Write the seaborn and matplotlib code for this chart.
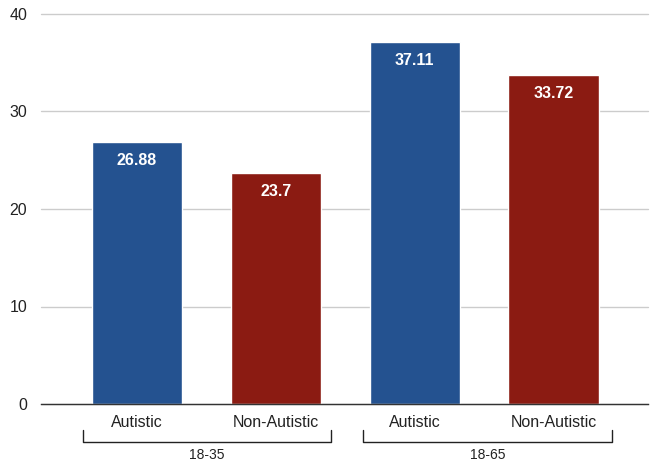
import matplotlib
matplotlib.use("Agg")
import matplotlib.pyplot as plt
import seaborn as sns
import pandas as pd

groups = ["18-35", "18-35", "18-65", "18-65"]
categories = ["Autistic", "Non-Autistic", "Autistic", "Non-Autistic"]
values = [26.88, 23.7, 37.11, 33.72]
value_labels = ["26.88", "23.7", "37.11", "33.72"]
group_names = ["18-35", "18-65"]
yticks = [0, 10, 20, 30, 40]

colors = {"Autistic": "#245290", "Non-Autistic": "#8B1B12"}

df = pd.DataFrame({
    "key": [f"{g}|{c}" for g, c in zip(groups, categories)],
    "cat": categories,
    "val": values,
})

sns.set_theme(style="white")
plt.rcParams['font.family'] = ['Liberation Sans', 'DejaVu Sans']

fig = plt.figure(figsize=(6.51, 4.65), dpi=100)
ax = fig.add_axes([41/651, 1-404/465, 607/651, 390/465])

sns.barplot(data=df, x="key", y="val", hue="cat", palette=colors,
            dodge=False, width=0.65, legend=False, ax=ax, saturation=1)

ax.set_ylim(0, 40)
ax.set_xlim(-0.69, 3.68)
ax.set_yticks(yticks)
ax.set_yticklabels([str(t) for t in yticks], fontsize=11.5, color="#222222")
ax.yaxis.grid(True, color="#cccccc", linewidth=1)
ax.set_axisbelow(True)
for g in ax.get_ygridlines():
    g.set_clip_on(False)
ax.tick_params(axis="y", length=0, pad=10)
ax.tick_params(axis="x", length=0, pad=8)
ax.set_xticks(range(len(categories)))
ax.set_xticklabels(categories, fontsize=11.5, color="#222222")
ax.set_xlabel("")
ax.set_ylabel("")
for s in ["top", "right", "left"]:
    ax.spines[s].set_visible(False)
ax.spines["bottom"].set_color("#333333")
ax.spines["bottom"].set_linewidth(1)

for patch in ax.patches:
    x = patch.get_x() + patch.get_width() / 2
    h = patch.get_height()
    idx = int(round(x))
    if 0 <= idx < len(value_labels) and h > 0:
        ax.annotate(value_labels[idx], (x, h), xytext=(0, -8),
                    textcoords="offset points", ha="center", va="top",
                    color="white", fontsize=11.5, fontweight="bold")

trans = ax.get_xaxis_transform()
brackets = [(-0.39, 1.40), (1.63, 3.42)]
ytop, ybot = -0.067, -0.097
for (x0, x1), name in zip(brackets, group_names):
    ax.plot([x0, x0, x1, x1], [ytop, ybot, ybot, ytop], color="#222222",
            linewidth=1, transform=trans, clip_on=False)
    ax.text((x0 + x1) / 2, -0.131, name, transform=trans, ha="center",
            va="center", fontsize=10, color="#222222")

fig.savefig("out.png", dpi=100, facecolor="white")
